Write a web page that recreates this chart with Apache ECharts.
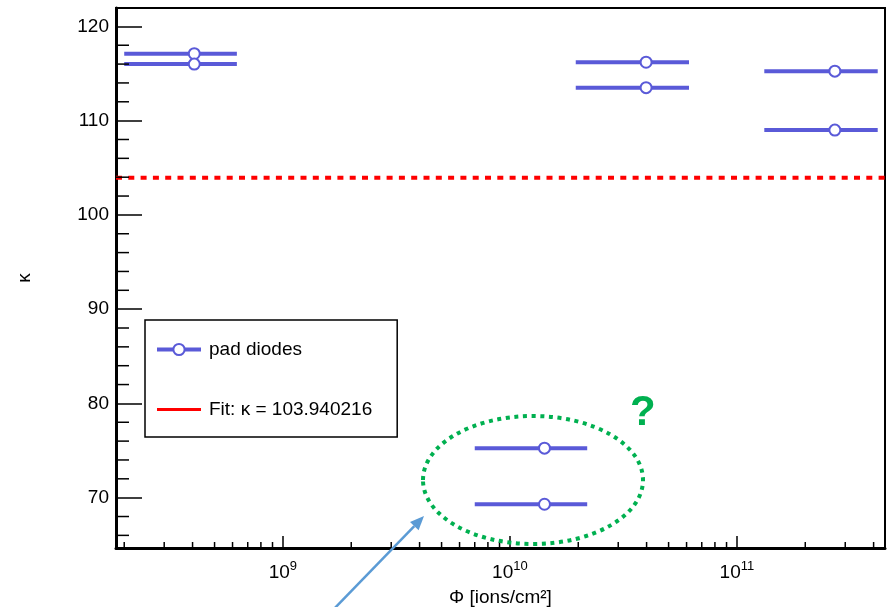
<!DOCTYPE html>
<html>
<head>
<meta charset="utf-8">
<script src="https://cdn.jsdelivr.net/npm/echarts@6/dist/echarts.min.js"></script>
<style>
  html, body { margin: 0; padding: 0; background: #fff; }
  #chart { width: 887px; height: 607px; }
</style>
</head>
<body>
<div id="chart"></div>
<script>
// Fluence of each measurement (centre) and its horizontal uncertainty range
const PHI       = [4.07e8, 4.07e8, 3.98e10, 3.98e10, 2.70e11, 2.70e11, 1.42e10, 1.42e10];
const PHI_LOW   = [2.0e8,  2.0e8,  1.95e10, 1.95e10, 1.32e11, 1.32e11, 7.0e9,   7.0e9];
const PHI_HIGH  = [6.27e8, 6.27e8, 6.15e10, 6.15e10, 4.17e11, 4.17e11, 2.19e10, 2.19e10];
// Extracted kappa for each pad diode
const KAPPA     = [117.1, 116.0, 116.2, 113.5, 115.25, 109.0, 75.25, 69.3];
// Constant fit result
const FIT_KAPPA = 103.940216;

// Axis ranges
const X_MIN = 1.84e8, X_MAX = 4.49e11;
const Y_MIN = 64.66,  Y_MAX = 121.95;

const SERIES_NAME = 'pad diodes';
const FIT_NAME = 'Fit: κ = ' + FIT_KAPPA.toFixed(6);

const BLUE = '#5a5ad8';
const FONT = '"Liberation Sans", Arial, sans-serif';

// minor tick positions: 2..9 × 10^n on the log axis, every 2 on the κ axis
const xMinor = [];
for (let n = 8; n <= 11; n++) {
  for (let k = 2; k <= 9; k++) {
    const v = k * Math.pow(10, n);
    if (v > X_MIN && v < X_MAX) xMinor.push([v, Y_MIN]);
  }
}
const yMinor = [];
for (let v = 66; v < Y_MAX; v += 2) {
  if (v % 10 !== 0) yMinor.push([X_MIN, v]);
}

const points = PHI.map((x, i) => [x, KAPPA[i]]);
const bars = PHI.map((x, i) => [PHI_LOW[i], PHI_HIGH[i], KAPPA[i]]);

const chart = echarts.init(document.getElementById('chart'), null, { renderer: 'canvas' });

chart.setOption({
  animation: false,
  backgroundColor: '#fff',
  textStyle: { fontFamily: FONT, color: '#000' },
  grid: {
    left: 116, top: 8, width: 769, height: 540,
    outerBoundsMode: 'none', containLabel: false,
    show: true, borderColor: '#000', borderWidth: 2, backgroundColor: 'transparent'
  },
  xAxis: {
    type: 'log', logBase: 10, min: X_MIN, max: X_MAX,
    name: 'Φ [ions/cm²]', nameLocation: 'middle', nameGap: 40,
    nameTextStyle: { fontSize: 19, color: '#000', fontFamily: FONT },
    axisLine: { show: true, lineStyle: { color: '#000', width: 3 } },
    axisTick: { show: true, inside: true, length: 12, lineStyle: { color: '#000', width: 1.5 } },
    splitLine: { show: false },
    axisLabel: {
      margin: 12, showMinLabel: false, showMaxLabel: false,
      formatter: v => '{b|10}{s|' + Math.round(Math.log10(v)) + '}',
      rich: {
        b: { fontSize: 19, fontFamily: FONT, color: '#000', lineHeight: 22, verticalAlign: 'bottom' },
        s: { fontSize: 13, fontFamily: FONT, color: '#000', lineHeight: 12, verticalAlign: 'top' }
      }
    }
  },
  yAxis: {
    type: 'value', min: Y_MIN, max: Y_MAX, splitNumber: 6,
    name: 'κ', nameLocation: 'middle', nameGap: 82, nameRotate: 90,
    nameTextStyle: { fontSize: 19, color: '#000', fontFamily: FONT },
    axisLine: { show: true, lineStyle: { color: '#000', width: 3 } },
    axisTick: { show: true, inside: true, length: 26, lineStyle: { color: '#000', width: 1.5 } },
    splitLine: { show: false },
    axisLabel: {
      margin: 7, fontSize: 19, color: '#000', fontFamily: FONT,
      showMinLabel: false, showMaxLabel: false
    }
  },
  legend: {
    orient: 'vertical', left: 145, top: 320,
    padding: [20, 25, 18, 10], itemGap: 41,
    itemWidth: 44, itemHeight: 14,
    borderColor: '#000', borderWidth: 1.5, backgroundColor: '#fff',
    textStyle: { fontSize: 19, color: '#000', fontFamily: FONT, padding: [0, 0, 0, 3] },
    data: [
      { name: SERIES_NAME,
        lineStyle: { color: BLUE, width: 4, opacity: 1, type: 'solid' } },
      { name: FIT_NAME, itemStyle: { opacity: 0 },
        lineStyle: { color: '#ff0000', width: 3, opacity: 1, type: 'solid' } }
    ]
  },
  series: [
    {
      // horizontal uncertainty bars
      type: 'custom', name: 'bars', silent: true, z: 3,
      data: bars,
      encode: { x: [0, 1], y: 2 },
      renderItem: (params, api) => {
        const a = api.coord([api.value(0), api.value(2)]);
        const b = api.coord([api.value(1), api.value(2)]);
        return {
          type: 'line',
          shape: { x1: a[0], y1: a[1], x2: b[0], y2: b[1] },
          style: { stroke: BLUE, lineWidth: 4 }
        };
      }
    },
    {
      name: SERIES_NAME, type: 'line', z: 5,
      data: points,
      symbol: 'emptyCircle', symbolSize: 11,
      itemStyle: { color: BLUE, borderColor: BLUE, borderWidth: 1.5 },
      lineStyle: { opacity: 0, width: 0 },
      emphasis: { disabled: true }
    },
    {
      name: FIT_NAME, type: 'line', z: 4,
      data: [[X_MIN, FIT_KAPPA], [X_MAX, FIT_KAPPA]],
      symbol: 'none',
      itemStyle: { color: '#ff0000' },
      lineStyle: { color: '#ff0000', width: 4, type: [6, 6.3] },
      emphasis: { disabled: true }
    },
    {
      // log minor ticks along Φ
      type: 'custom', name: 'xminor', silent: true, z: 6,
      data: xMinor, encode: { x: 0, y: 1 },
      renderItem: (params, api) => {
        const p = api.coord([api.value(0), api.value(1)]);
        return { type: 'line', shape: { x1: p[0], y1: p[1], x2: p[0], y2: p[1] - 6 },
                 style: { stroke: '#000', lineWidth: 1.5 } };
      }
    },
    {
      // minor ticks along κ
      type: 'custom', name: 'yminor', silent: true, z: 6,
      data: yMinor, encode: { x: 0, y: 1 },
      renderItem: (params, api) => {
        const p = api.coord([api.value(0), api.value(1)]);
        return { type: 'line', shape: { x1: p[0], y1: p[1], x2: p[0] + 13, y2: p[1] },
                 style: { stroke: '#000', lineWidth: 1.5 } };
      }
    }
  ],
  graphic: [
    // highlight around the low-κ pair
    { type: 'ellipse', z: 10, shape: { cx: 533, cy: 480, rx: 110, ry: 64 },
      style: { fill: null, stroke: '#00b050', lineWidth: 4, lineDash: [4, 4.6] } },
    { type: 'text', z: 10, left: 630, top: 392,
      style: { text: '?', fontSize: 42, fontWeight: 'bold', fill: '#00b050', fontFamily: FONT } },
    // pointer arrow
    { type: 'line', z: 10, shape: { x1: 331, y1: 612, x2: 414.3, y2: 526.1 },
      style: { stroke: '#5b9bd5', lineWidth: 2.5 } },
    { type: 'polygon', z: 10, shape: { points: [[424, 516], [418.6, 530.3], [410.0, 521.9]] },
      style: { fill: '#5b9bd5' } }
  ]
});
</script>
</body>
</html>
